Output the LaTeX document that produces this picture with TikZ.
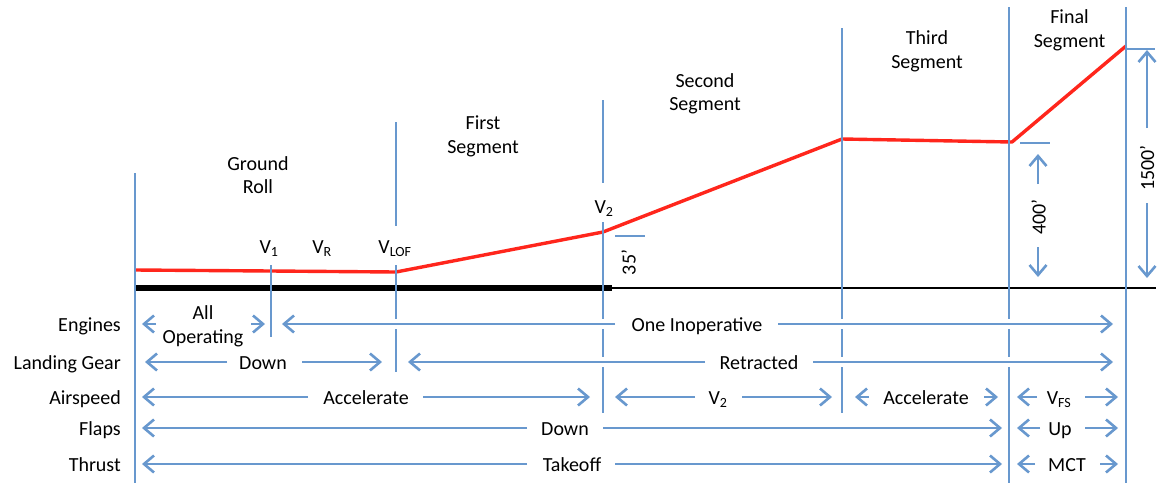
\documentclass[tikz,border=0pt]{standalone}
\usepackage{fontspec}
\setmainfont{Carlito}
\usetikzlibrary{arrows.meta}
\definecolor{ablue}{RGB}{104,152,206}
\definecolor{vred}{RGB}{255,38,28}
\begin{document}
\begin{tikzpicture}[x=1pt,y=-1pt,
  lbl/.style={font=\fontsize{20}{23.7}\selectfont, inner sep=0pt, text height=13pt, text depth=0pt},
  lbltwo/.style={font=\fontsize{20}{23.7}\selectfont, inner sep=0pt, align=center, anchor=base},
  vline/.style={draw=ablue, line width=1.1pt},
  tip/.style={draw=ablue, line width=1.8pt, -{Straight Barb[length=10pt,width=17pt,line width=2.6pt]}},
  arr/.style={tip, preaction={draw=white, line width=10pt, -}},
]
\useasboundingbox (0,0) rectangle (1157,483);

% ground
\draw[black, line width=6.8pt] (135,288) -- (612,288);
\draw[black, line width=1.1pt] (612,288) -- (1156,288);

% flight path
\draw[vred, line width=3.4pt, line join=round] (135,270) -- (271,271) -- (396,272) -- (603,232) -- (842,139) -- (1012,142) -- (1126,46);

% vertical lines
\draw[vline] (135,173) -- (135,483);
\draw[vline] (271,265) -- (271,337);
\draw[vline] (396,122) -- (396,226);
\draw[vline] (396,265) -- (396,372);
\draw[vline] (603,100) -- (603,183);
\draw[vline] (603,222) -- (603,413);
\draw[vline] (842,28) -- (842,413);
\draw[vline] (1009,7) -- (1009,483);
\draw[vline] (1126,7) -- (1126,483);

% height markers
\draw[vline] (615,236) -- (645,236);
\draw[vline] (1020,143) -- (1050,143);
\draw[vline] (1126,49) -- (1155,49);
\draw[tip] (1038,184) -- (1038,154);
\draw[tip] (1038,247) -- (1038,277);
\draw[tip] (1147,128) -- (1147,50);
\draw[tip] (1147,203) -- (1147,278);

% Engines row
\draw[tip] (156,324) -- (142,324);
\draw[tip] (251,324) -- (265,324);
\draw[arr] (615,324) -- (282,324);
\draw[arr] (778,324) -- (1113,324);
% Landing gear row
\draw[arr] (227,362) -- (145,362);
\draw[arr] (302,362) -- (382,362);
\draw[arr] (705,362) -- (408,362);
\draw[arr] (813,362) -- (1113,362);
% Airspeed row
\draw[arr] (308,397) -- (142,397);
\draw[arr] (423,397) -- (590,397);
\draw[arr] (695,397) -- (615,397);
\draw[arr] (742,397) -- (832,397);
\draw[tip] (869,397) -- (855,397);
\draw[tip] (984,397) -- (998,397);
\draw[tip] (1037,397) -- (1017,397);
\draw[tip] (1085,397) -- (1118,397);
% Flaps row
\draw[arr] (527,428) -- (142,428);
\draw[arr] (603,428) -- (1002,428);
\draw[tip] (1040,428) -- (1017,428);
\draw[tip] (1085,428) -- (1118,428);
% Thrust row
\draw[arr] (527,464) -- (142,464);
\draw[arr] (615,464) -- (1002,464);
\draw[tip] (1035,464) -- (1017,464);
\draw[tip] (1100,464) -- (1118,464);

% row labels
\node[lbl, anchor=east] (engines) at (121,325) {Engines};
\node[lbl, anchor=east] (gear) at (121,363) {Landing Gear};
\node[lbl, anchor=east] (airspeed) at (121,398) {Airspeed};
\node[lbl, anchor=east] (flaps) at (121,429) {Flaps};
\node[lbl, anchor=east] (thrust) at (121,465) {Thrust};

% row texts
\node[lbltwo] (allop) at (203,343.2) {All\\Operating};
\node[lbl] (oneinop) at (697,325) {One Inoperative};
\node[lbl] (geardown) at (263,363) {Down};
\node[lbl] (retracted) at (759,363) {Retracted};
\node[lbl] (accel1) at (366,398) {Accelerate};
\node[lbl] (vtwo) at (718,398) {V\textsubscript{2}};
\node[lbl] (accel2) at (926,398) {Accelerate};
\node[lbl] (vfs) at (1059,398) {V\textsubscript{FS}};
\node[lbl] (flapsdown) at (565,429) {Down};
\node[lbl] (flapsup) at (1060,429) {Up};
\node[lbl] (takeoff) at (572,465) {Takeoff};
\node[lbl] (mct) at (1067,465) {MCT};

% segment labels
\node[lbltwo] (ground) at (258,193.9) {Ground\\Roll};
\node[lbltwo] (first) at (483,153.2) {First\\Segment};
\node[lbltwo] (second) at (705,110.9) {Second\\Segment};
\node[lbltwo] (third) at (927,68.2) {Third\\Segment};
\node[lbltwo] (final) at (1069.5,47.2) {Final\\Segment};

% speed labels
\node[lbl] (vone) at (269,247) {V\textsubscript{1}};
\node[lbl] (vr) at (322,247) {V\textsubscript{R}};
\node[lbl] (vlof) at (395,247) {V\textsubscript{LOF}};
\node[lbl] (vtwotop) at (604,207) {V\textsubscript{2}};

% heights
\node[lbl, rotate=90] (h35) at (629,262.5) {35’};
\node[lbl, rotate=90] (h400) at (1039,217) {400’};
\node[lbl, rotate=90] (h1500) at (1147.5,168) {1500’};
\end{tikzpicture}
\end{document}
